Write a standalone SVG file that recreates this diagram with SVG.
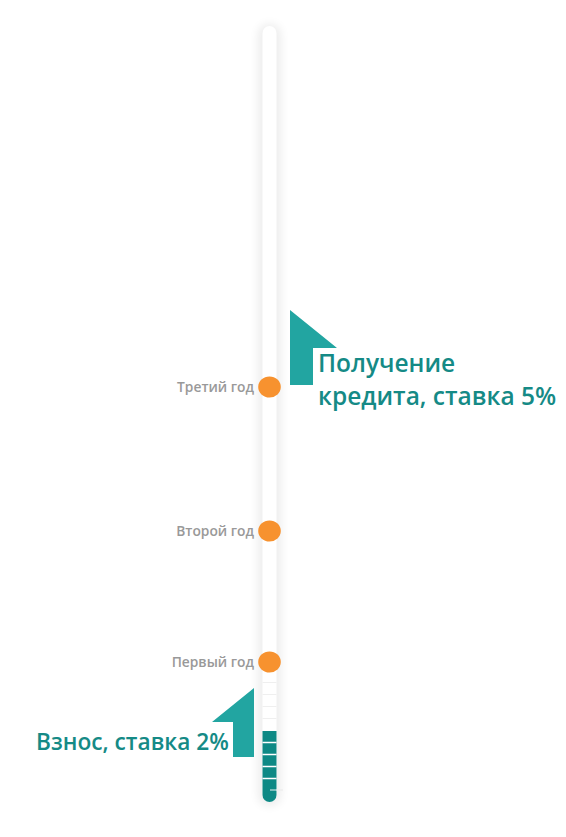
<svg xmlns="http://www.w3.org/2000/svg" width="566" height="837" viewBox="0 0 566 837">
<defs>
<filter id="sh" x="-2" y="-0.1" width="5" height="1.2"><feGaussianBlur stdDeviation="5"/></filter>
<clipPath id="trk"><rect x="262.5" y="26" width="14" height="776" rx="7"/></clipPath>
</defs>
<style>
.lbl{font-family:"Open Sans","Noto Sans",sans-serif;font-size:13.8px;font-weight:600;fill:#999999;text-anchor:end}
.big{font-family:"Open Sans","Noto Sans",sans-serif;font-size:24.5px;font-weight:600;fill:#158a86}
.flag{fill:#22a5a1}
.dot{fill:#f7922f}
.sep{stroke:#efefef;stroke-width:1}
.wsep{stroke:#ffffff;stroke-width:1.5}
</style>
<rect width="566" height="837" fill="#ffffff"/>
<g id="track">
<rect x="258" y="24" width="23" height="782" rx="10" fill="#000" opacity="0.07" filter="url(#sh)"/>
<rect x="262.5" y="26" width="14" height="776" rx="7" fill="#ffffff"/>
<g clip-path="url(#trk)">
<rect x="262" y="731" width="15" height="72" fill="#0e8985"/>
<line class="sep" x1="262" y1="682.5" x2="277" y2="682.5"/>
<line class="sep" x1="262" y1="694.5" x2="277" y2="694.5"/>
<line class="sep" x1="262" y1="706.5" x2="277" y2="706.5"/>
<line class="sep" x1="262" y1="718.5" x2="277" y2="718.5"/>
<line class="wsep" x1="262" y1="742.5" x2="277" y2="742.5"/>
<line class="wsep" x1="262" y1="754.5" x2="277" y2="754.5"/>
<line class="wsep" x1="262" y1="766.5" x2="277" y2="766.5"/>
<line class="wsep" x1="262" y1="778.5" x2="277" y2="778.5"/>
</g>
<line x1="270" y1="790" x2="283" y2="790" stroke="#ffffff" stroke-width="1" opacity="0.9"/>
<line x1="276.5" y1="790" x2="283" y2="790" stroke="#e6e6e6" stroke-width="1"/>
</g>
<g id="year3">
<ellipse class="dot" cx="269.5" cy="387" rx="11.3" ry="10.5"/>
<text class="lbl" x="254" y="392">Третий год</text>
</g>
<g id="year2">
<ellipse class="dot" cx="269.5" cy="531" rx="11.3" ry="10.5"/>
<text class="lbl" x="254" y="536">Второй год</text>
</g>
<g id="year1">
<ellipse class="dot" cx="269.5" cy="662" rx="11.3" ry="10.5"/>
<text class="lbl" x="254" y="667">Первый год</text>
</g>
<g id="credit">
<polygon class="flag" points="290,310 337,348 313,348 313,385 290,385"/>
<text class="big" x="318" y="372">Получение</text>
<text class="big" x="318" y="405">кредита, ставка 5%</text>
</g>
<g id="deposit">
<polygon class="flag" points="254,688 212,722 233,722 233,757 254,757"/>
<text class="big" x="36" y="750" style="font-size:22.7px">Взнос, ставка 2%</text>
</g>
<g id="connectors"></g>
</svg>
